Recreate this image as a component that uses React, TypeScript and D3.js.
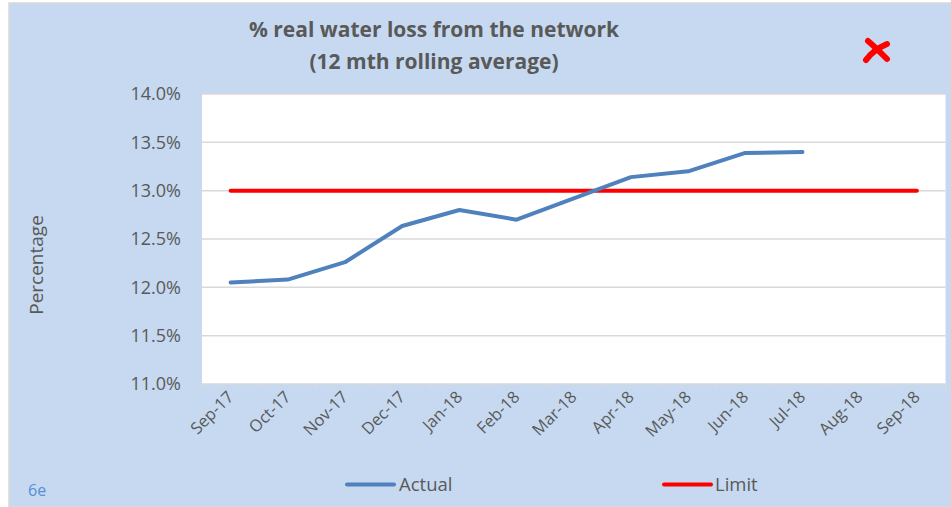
import React from "react";
import * as d3 from "d3";

const months = ["Sep-17","Oct-17","Nov-17","Dec-17","Jan-18","Feb-18","Mar-18","Apr-18","May-18","Jun-18","Jul-18","Aug-18","Sep-18"];
const actual: (number | null)[] = [12.05,12.08,12.26,12.635,12.8,12.7,12.92,13.14,13.2,13.39,13.4,null,null];
const limit: number[] = [13,13,13,13,13,13,13,13,13,13,13,13,13];
const yTicks = [11.0,11.5,12.0,12.5,13.0,13.5,14.0];

const W = 951, H = 507;
const plot = { left: 202, right: 945.5, top: 94, bottom: 384 };
const FONT = "'Open Sans', Lato, sans-serif";
const TXT = "#595959";

export default function App() {
  const x = d3.scaleBand<string>().domain(months).range([plot.left, plot.right]).padding(0);
  const y = d3.scaleLinear().domain([11, 14]).range([plot.bottom, plot.top]);
  const cx = (m: string) => (x(m) as number) + x.bandwidth() / 2;

  const lineA = d3.line<number | null>()
    .defined(d => d !== null)
    .x((_, i) => cx(months[i]))
    .y(d => y(d as number));
  const lineL = d3.line<number>()
    .x((_, i) => cx(months[i]))
    .y(d => y(d));

  const boundaries = d3.range(months.length + 1).map(i => plot.left + i * x.bandwidth());

  return (
    <svg width={W} height={H} style={{ position: "absolute", left: 0, top: 0 }} fontFamily={FONT}>
      <rect x={0} y={0} width={W} height={H} fill="#ffffff" />
      <rect x={9} y={3} width={W - 9} height={H - 3} fill="#C6D9F0" stroke="#D9D9D9" strokeWidth={1.5} />
      <rect x={plot.left} y={plot.top} width={plot.right - plot.left} height={plot.bottom - plot.top} fill="#ffffff" />

      {yTicks.map(t => (
        <line key={"g" + t} x1={plot.left} x2={plot.right} y1={y(t)} y2={y(t)} stroke="#D9D9D9" strokeWidth={1.5} />
      ))}
      {boundaries.map((b, i) => (
        <line key={"t" + i} x1={b} x2={b} y1={plot.bottom} y2={plot.bottom + 5} stroke="#D9D9D9" strokeWidth={1.2} />
      ))}

      {yTicks.map(t => (
        <text key={"yl" + t} x={181} y={y(t)} dy="0.36em" textAnchor="end" fontSize={18} fill={TXT}>
          {t.toFixed(1) + "%"}
        </text>
      ))}

      {months.map(m => (
        <text key={"xl" + m} transform={`translate(${cx(m) + 4},${plot.bottom + 14}) rotate(-45)`}
          textAnchor="end" fontSize={16.5} fill={TXT}>
          {m}
        </text>
      ))}

      <path d={lineL(limit) as string} fill="none" stroke="#FF0000" strokeWidth={4} strokeLinecap="round" />
      <path d={lineA(actual) as string} fill="none" stroke="#4F81BD" strokeWidth={4} strokeLinecap="round" strokeLinejoin="round" />

      <text x={434} y={37} textAnchor="middle" fontSize={21} fontWeight="bold" fill={TXT}>% real water loss from the network</text>
      <text x={434} y={69} textAnchor="middle" fontSize={21} fontWeight="bold" fill={TXT}>(12 mth rolling average)</text>

      <g stroke="#FF0000" strokeWidth={6} strokeLinecap="round" fill="none">
        <path d="M868,41 Q874,46 887,59" />
        <path d="M887,44 Q873,50 866,60" />
      </g>

      <text transform="translate(43,265) rotate(-90)" textAnchor="middle" fontSize={19} fill={TXT}>Percentage</text>
      <text x={28} y={496} fontSize={16} fill="#558ED5">6e</text>

      <line x1={347} x2={394} y1={484.5} y2={484.5} stroke="#4F81BD" strokeWidth={4} strokeLinecap="round" />
      <text x={399} y={491} fontSize={18.5} fill={TXT}>Actual</text>
      <line x1={664} x2={711} y1={484.5} y2={484.5} stroke="#FF0000" strokeWidth={4} strokeLinecap="round" />
      <text x={715} y={491} fontSize={18.5} fill={TXT}>Limit</text>
    </svg>
  );
}
